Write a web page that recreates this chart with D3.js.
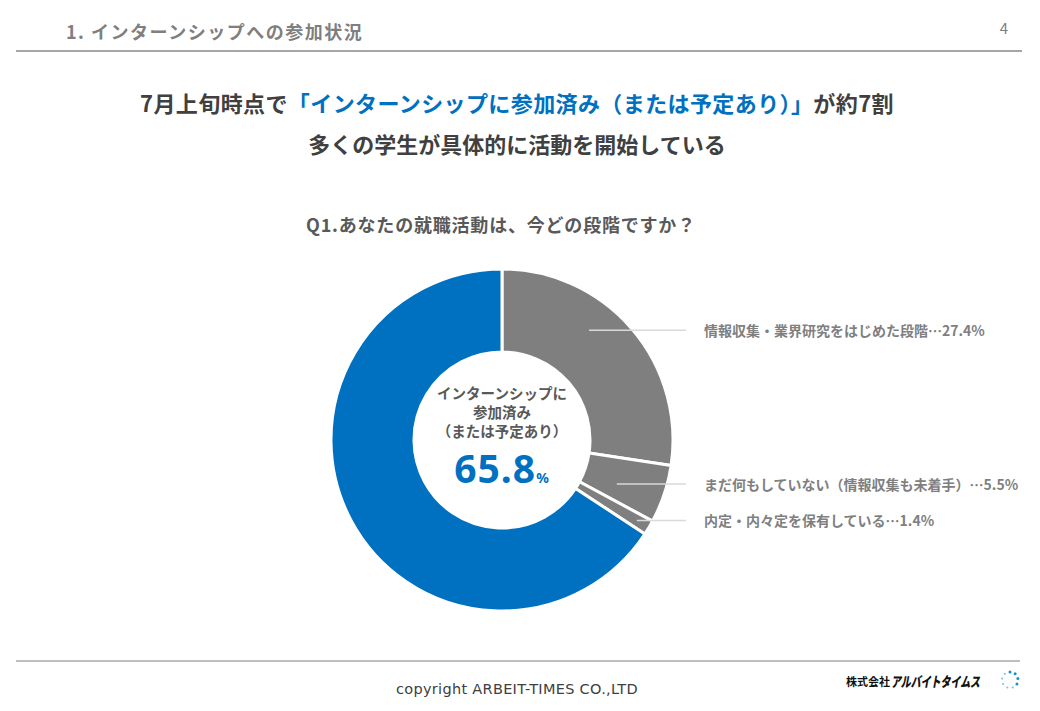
<!DOCTYPE html>
<html>
<head>
<meta charset="utf-8">
<script src="https://cdn.jsdelivr.net/npm/d3@7/dist/d3.min.js"></script>
<style>
  body { margin: 0; background: #fff; }
  svg { display: block; font-family: "Noto Sans CJK JP", "Noto Sans", sans-serif; }
</style>
</head>
<body>
<svg id="chart" width="1040" height="711"></svg>
<script>
// data
var categories = [
  "情報収集・業界研究をはじめた段階",
  "まだ何もしていない（情報収集も未着手）",
  "内定・内々定を保有している",
  "インターンシップに参加済み（または予定あり）"
];
var values = [27.4, 5.5, 1.4, 65.8];
var sliceColors = ["#7f7f7f", "#7f7f7f", "#7f7f7f", "#0070c0"];
var labelled = [true, true, true, false];

var svg = d3.select("#chart");
var width = 1040, height = 711;

var blue = "#0070c0";
var dark = "#404040";
var gray = "#7f7f7f";

// header
svg.append("text")
    .attr("x", 66).attr("y", 39)
    .attr("font-size", 18).attr("font-weight", "bold")
    .attr("letter-spacing", 1.5)
    .attr("fill", gray)
    .text("1.  インターンシップへの参加状況");
svg.append("text")
    .attr("x", 1008).attr("y", 34)
    .attr("text-anchor", "end")
    .attr("font-size", 15)
    .attr("fill", gray)
    .text("4");
svg.append("line")
    .attr("x1", 16).attr("x2", 1022)
    .attr("y1", 51).attr("y2", 51)
    .attr("stroke", "#a6a6a6").attr("stroke-width", 2);

// titles
var t1 = svg.append("text")
    .attr("x", 517).attr("y", 112)
    .attr("text-anchor", "middle")
    .attr("font-size", 22).attr("font-weight", "bold")
    .attr("letter-spacing", 0.4)
    .attr("fill", dark);
t1.append("tspan").text("7月上旬時点で");
t1.append("tspan").attr("fill", blue).text("「インターンシップに参加済み（または予定あり）」");
t1.append("tspan").text("が約7割");

svg.append("text")
    .attr("x", 517).attr("y", 153)
    .attr("text-anchor", "middle")
    .attr("font-size", 22).attr("font-weight", "bold")
    .attr("fill", dark)
    .text("多くの学生が具体的に活動を開始している");

svg.append("text")
    .attr("x", 501).attr("y", 232)
    .attr("text-anchor", "middle")
    .attr("font-size", 18).attr("font-weight", "bold")
    .attr("letter-spacing", 0.8)
    .attr("fill", "#595959")
    .text("Q1.あなたの就職活動は、今どの段階ですか？");

// donut
var cx = 502, cy = 440;
var outerR = 171, innerR = 88;

var pie = d3.pie().sort(null).value(function(d){ return d; });
var arcs = pie(values);
var arc = d3.arc().innerRadius(innerR).outerRadius(outerR);

var g = svg.append("g").attr("transform", "translate(" + cx + "," + cy + ")");

g.selectAll("path.slice")
    .data(arcs)
  .enter().append("path")
    .attr("class", "slice")
    .attr("d", arc)
    .attr("fill", function(d, i){ return sliceColors[i]; })
    .attr("stroke", "#fff")
    .attr("stroke-width", 3)
    .attr("stroke-linejoin", "round");

// leader lines + labels
var leaderFrac = [0.39, 0.63, 0.5];
var leaderR = [140, 123, 157];
var lineEnd = 686 - cx;
var labelX = 704 - cx;

arcs.forEach(function(a, i){
  if (!labelled[i]) return;
  var ang = a.startAngle + (a.endAngle - a.startAngle) * leaderFrac[i];
  var x0 = Math.sin(ang) * leaderR[i];
  var y0 = -Math.cos(ang) * leaderR[i];
  g.append("line")
      .attr("x1", x0).attr("y1", y0)
      .attr("x2", lineEnd).attr("y2", y0)
      .attr("stroke", "#d9d9d9").attr("stroke-width", 1.5);
  g.append("text")
      .attr("x", labelX).attr("y", y0 + 6)
      .attr("font-size", 14).attr("font-weight", "bold")
      .attr("fill", gray)
      .text(categories[i] + "…" + d3.format(".1f")(values[i]) + "%");
});

// center text
var centerLines = ["インターンシップに", "参加済み", "（または予定あり）"];
g.selectAll("text.center")
    .data(centerLines)
  .enter().append("text")
    .attr("class", "center")
    .attr("x", 0)
    .attr("y", function(d, i){ return -41 + i * 19; })
    .attr("text-anchor", "middle")
    .attr("font-size", 14.5).attr("font-weight", "bold")
    .attr("fill", "#595959")
    .text(function(d){ return d; });

var big = g.append("text")
    .attr("x", 0).attr("y", 43)
    .attr("text-anchor", "middle")
    .attr("font-family", "'Noto Sans', 'Noto Sans CJK JP', sans-serif")
    .attr("font-weight", "bold")
    .attr("letter-spacing", 1)
    .attr("fill", blue);
big.append("tspan").attr("font-size", 39).text(d3.format(".1f")(values[3]));
big.append("tspan").attr("font-size", 14).text("%");

// footer
svg.append("line")
    .attr("x1", 16).attr("x2", 1020)
    .attr("y1", 661).attr("y2", 661)
    .attr("stroke", "#7f7f7f").attr("stroke-width", 1);
svg.append("text")
    .attr("x", 517).attr("y", 694)
    .attr("text-anchor", "middle")
    .attr("font-family", "'DejaVu Sans', sans-serif")
    .attr("font-size", 14.5)
    .attr("letter-spacing", 0.3)
    .attr("fill", dark)
    .text("copyright ARBEIT-TIMES CO.,LTD");

svg.append("text")
    .attr("x", 846).attr("y", 686)
    .attr("font-size", 11).attr("font-weight", "bold")
    .attr("fill", "#111")
    .text("株式会社");
svg.append("text")
    .attr("x", 891).attr("y", 687)
    .attr("textLength", 89)
    .attr("lengthAdjust", "spacingAndGlyphs")
    .attr("font-size", 14).attr("font-weight", "900").attr("font-style", "italic")
    .attr("fill", "#111")
    .text("アルバイトタイムス");

// logo icon: ring of dots
var dots = d3.range(9);
svg.append("g")
    .attr("transform", "translate(1010,680)")
  .selectAll("circle")
    .data(dots)
  .enter().append("circle")
    .attr("cx", function(d){ return Math.sin(d / 9 * 2 * Math.PI) * 8; })
    .attr("cy", function(d){ return -Math.cos(d / 9 * 2 * Math.PI) * 8; })
    .attr("r", function(d){ return d < 4 ? 1.5 : 1.1; })
    .attr("fill", function(d){ return d < 4 ? "#1a8ed0" : "#7cc6e8"; });
</script>
</body>
</html>
